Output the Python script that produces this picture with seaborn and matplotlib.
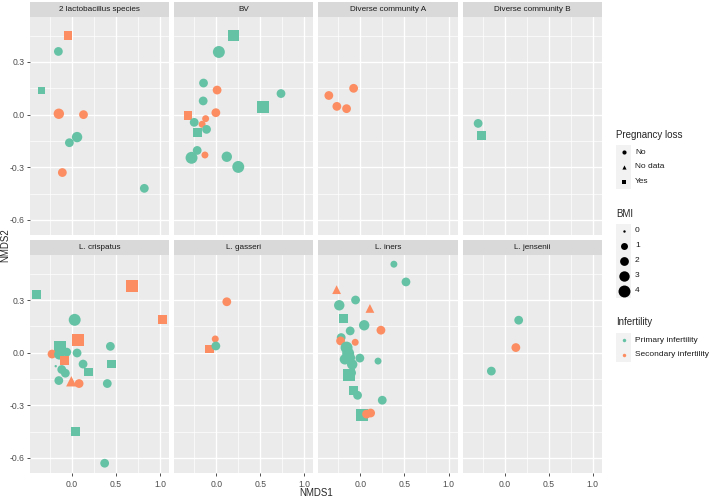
import numpy as np
import pandas as pd
import matplotlib.pyplot as plt
import seaborn as sns
from matplotlib.lines import Line2D
from matplotlib.patches import Rectangle
from matplotlib.ticker import FixedLocator

sns.set_theme(style='darkgrid', rc={'axes.facecolor': '#EBEBEB', 'grid.color': 'white'})
plt.rcParams['font.family'] = ['Liberation Sans', 'DejaVu Sans']
plt.rcParams['axes.unicode_minus'] = False

# 面板（群落类型）及每个面板的点数
panels = ['2 lactobacillus species', 'BV', 'Diverse community A', 'Diverse community B',
          'L. crispatus', 'L. gasseri', 'L. iners', 'L. jensenii']
panel_n = [9, 19, 4, 2, 24, 4, 28, 3]

# 坐标
nmds1 = [-0.045, -0.155, -0.35, -0.15, 0.13, -0.03, 0.057, -0.11, 0.82,
         0.197, 0.03, -0.144, 0.01, -0.148, 0.735, 0.534, -0.32, -0.004, -0.12,
         -0.16, -0.25, -0.11, -0.216, -0.128, -0.28, -0.216, 0.12, 0.25,
         -0.358, -0.267, -0.157, -0.077,
         -0.30, -0.265,
         -0.40, 0.685, 1.03, 0.03, 0.068, -0.133, -0.227, -0.06, 0.057, -0.144,
         -0.087, -0.185, -0.117, -0.076, 0.125, 0.19, 0.435, 0.447, -0.15, -0.008,
         0.08, 0.40, 0.042, 0.37,
         0.12, -0.011, -0.08, -0.004,
         0.38, 0.517, -0.27, -0.055, -0.24, 0.108, -0.188, 0.043, 0.233, -0.116,
         -0.218, -0.225, -0.059, -0.157, -0.139, -0.176, -0.093, -0.006, -0.119, 0.20,
         -0.134, -0.10, -0.082, -0.032, 0.248, 0.017, 0.116, 0.07,
         0.16, 0.128, -0.15]
nmds2 = [0.45, 0.36, 0.14, 0.005, 0.0, -0.16, -0.128, -0.33, -0.42,
         0.45, 0.357, 0.18, 0.14, 0.078, 0.12, 0.046, -0.006, 0.011, -0.023,
         -0.055, -0.044, -0.084, -0.10, -0.23, -0.246, -0.204, -0.24, -0.298,
         0.109, 0.047, 0.034, 0.15,
         -0.05, -0.118,
         0.33, 0.378, 0.189, 0.187, 0.072, 0.034, -0.008, 0.003, -0.002, -0.01,
         -0.044, -0.077, -0.096, -0.117, -0.065, -0.11, 0.036, -0.065, -0.159, -0.163,
         -0.176, -0.176, -0.449, -0.63,
         0.29, 0.078, 0.021, 0.038,
         0.504, 0.403, 0.359, 0.30, 0.27, 0.252, 0.195, 0.156, 0.128, 0.124,
         0.086, 0.067, 0.059, 0.029, -0.004, -0.038, -0.067, -0.031, -0.029, -0.048,
         -0.13, -0.115, -0.214, -0.243, -0.271, -0.354, -0.344, -0.35,
         0.185, 0.029, -0.105]
# P = Primary, S = Secondary
infert = list('SPPSSPPSP'
              'PPPSPPPSSSSPPPSPPPP'
              'SSSS'
              'PP'
              'PSSPSPSPPPSPPPPPPPPSSPPP'
              'SSSP'
              'PPSPPSPPSPPSSPPPPPPPPPPPPPSS'
              'PSP')
# N = No, D = No data, Y = Yes
preg = list('YNYNNNNNN'
            'YNNNNNYYNNNNNYNNNNN'
            'NNNN'
            'NY'
            'YYYNYYNNNNYNNNNYNYNDNNYN'
            'NNYN'
            'NNDNNDYNNNNNNNNNNNNNYNYNNYNN'
            'NNN')
bmi = [2, 2, 1, 3, 2, 2, 3, 2, 2,
       3, 4, 2, 2, 2, 2, 4, 2, 2, 1, 1, 2, 2, 2, 1, 4, 2, 3, 4,
       2, 2, 2, 2,
       2, 2,
       2, 4, 2, 4, 4, 4, 2, 2, 2, 3, 2, 0, 2, 2, 2, 2, 2, 2, 2, 3, 2, 2, 2, 2,
       2, 1, 2, 2,
       1, 2, 2, 2, 3, 2, 2, 3, 2, 2, 2, 2, 1, 4, 4, 3, 3, 2, 3, 1, 4, 2, 2, 2, 2, 4, 2, 2,
       2, 2, 2]

infert_names = {'P': 'Primary infertility', 'S': 'Secondary infertility'}
preg_names = {'N': 'No', 'D': 'No data', 'Y': 'Yes'}
infert_levels = ['Primary infertility', 'Secondary infertility']
preg_levels = ['No', 'No data', 'Yes']
bmi_levels = [0, 1, 2, 3, 4]

df = pd.DataFrame({
    'community': np.repeat(panels, panel_n),
    'NMDS1': nmds1,
    'NMDS2': nmds2,
    'Infertility': [infert_names[c] for c in infert],
    'Pregnancy loss': [preg_names[c] for c in preg],
    'BMI': bmi,
})

colors = {'Primary infertility': '#66C2A5', 'Secondary infertility': '#FC8D62'}
shapes = {'No': 'o', 'No data': '^', 'Yes': 's'}
bmi_sizes = {0: 3, 1: 25, 2: 40, 3: 56, 4: 74}

W, H = 709, 499
fig, axes = plt.subplots(2, 4, figsize=(W / 100, H / 100), dpi=100, sharex=True, sharey=True)
fig.subplots_adjust(left=30 / W, right=601.7 / W, top=1 - 16.7 / H, bottom=1 - 472.7 / H,
                    wspace=0.036, hspace=0.092)

for i, ax in enumerate(axes.flat):
    sub = df[df['community'] == panels[i]]
    sns.scatterplot(data=sub, x='NMDS1', y='NMDS2', hue='Infertility', style='Pregnancy loss',
                    size='BMI', hue_order=infert_levels, style_order=preg_levels,
                    palette=colors, markers=shapes, sizes=bmi_sizes, linewidth=0,
                    alpha=1, legend=False, ax=ax)
    ax.set_xlim(-0.477, 1.102)
    ax.set_ylim(-0.684, 0.558)
    ax.set_xticks([0, 0.5, 1.0], ['0.0', '0.5', '1.0'])
    ax.set_yticks([-0.6, -0.3, 0, 0.3], ['-0.6', '-0.3', '0.0', '0.3'])
    ax.xaxis.set_minor_locator(FixedLocator([-0.25, 0.25, 0.75]))
    ax.yaxis.set_minor_locator(FixedLocator([-0.45, -0.15, 0.15, 0.45]))
    ax.grid(which='major', color='white', linewidth=1.0)
    ax.grid(which='minor', color='white', linewidth=0.5)
    ax.tick_params(which='minor', length=0)
    ax.tick_params(which='major', length=2, width=0.6, color='#333333',
                   labelsize=6.2, labelcolor='#4D4D4D')
    ax.tick_params(axis='x', pad=3)
    ax.tick_params(axis='y', pad=2)
    ax.tick_params(left=(i % 4 == 0), bottom=(i >= 4))
    ax.set_xlabel('')
    ax.set_ylabel('')
    for s in ax.spines.values():
        s.set_visible(False)
    # 分面标题条
    ax.add_patch(Rectangle((0, 1), 1, 15 / 218, transform=ax.transAxes,
                           facecolor='#D9D9D9', edgecolor='none', clip_on=False))
    ax.text(0.5, 1 + 7.5 / 218, panels[i], transform=ax.transAxes, ha='center',
            va='center', fontsize=5.9, color='#1A1A1A')

fig.text(316 / W, 1 - 488.5 / H, 'NMDS1', ha='center', va='top', fontsize=7)
fig.text(5 / W, 1 - 244.7 / H, 'NMDS2', ha='center', va='center', rotation=90, fontsize=7)


# 图例（手动绘制成 ggplot 风格）
def legend_key(y, marker, ms, color, label):
    fig.add_artist(Rectangle((616 / W, 1 - (y + 7.3) / H), 15 / W, 14.6 / H,
                             transform=fig.transFigure, facecolor='#F2F2F2', edgecolor='none'))
    fig.add_artist(Line2D([623.5 / W], [1 - y / H], marker=marker, markersize=ms, color=color,
                          linestyle='none', markeredgewidth=0, transform=fig.transFigure))
    fig.text(635 / W, 1 - y / H, label, fontsize=6, va='center', color='#1A1A1A')


fig.text(616 / W, 1 - 135 / H, 'Pregnancy loss', fontsize=7, va='center')
for y, lev in zip([152.3, 167, 181.7], preg_levels):
    legend_key(y, shapes[lev], 3, 'black', lev)

fig.text(616 / W, 1 - 214.3 / H, 'BMI', fontsize=7, va='center')
for y, lev in zip([231, 245.7, 260.7, 275.5, 290.5], bmi_levels):
    legend_key(y, 'o', np.sqrt(bmi_sizes[lev]), 'black', str(lev))

fig.text(616 / W, 1 - 322.3 / H, 'Infertility', fontsize=7, va='center')
for y, lev in zip([340.3, 354.5], infert_levels):
    legend_key(y, 'o', 2.5, colors[lev], lev)

plt.savefig('out.png', dpi=100)
